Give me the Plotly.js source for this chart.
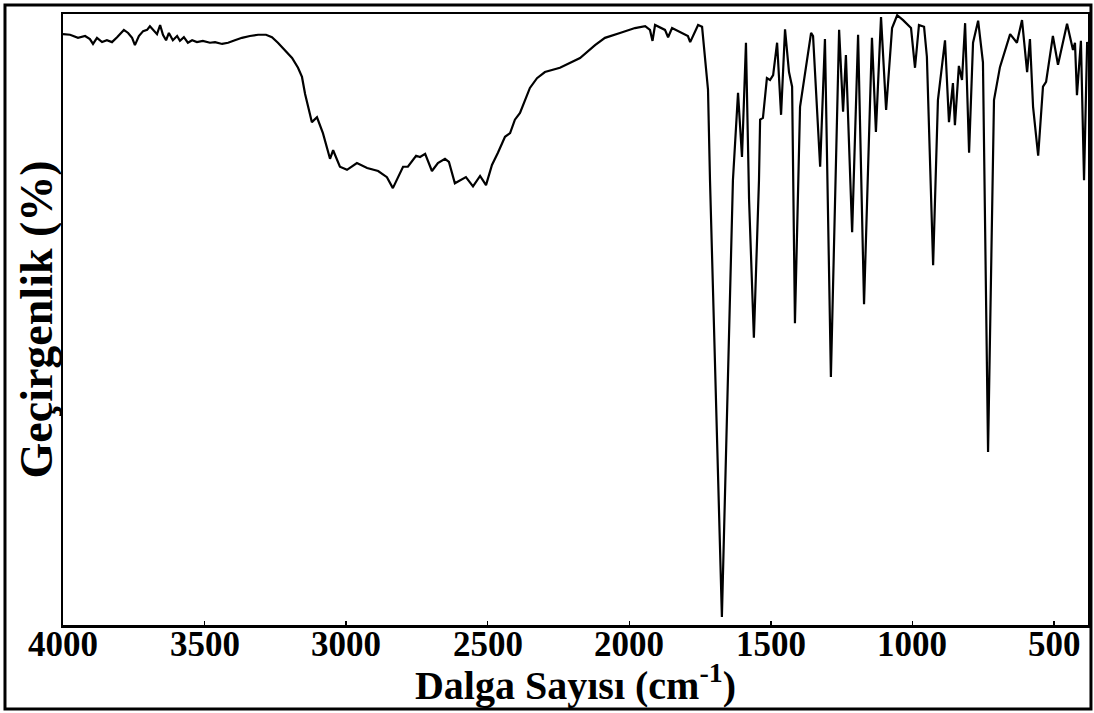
<!DOCTYPE html>
<html>
<head>
<meta charset="utf-8">
<script src="https://cdn.plot.ly/plotly-3.0.1.min.js"></script>
<style>html,body{margin:0;padding:0;background:#fff;}#chart{width:1094px;height:713px;}</style>
</head>
<body>
<div id="chart"></div>
<script>
// Wavenumber (cm-1) and transmittance (%)
const wavenumber = [4000,3975,3947,3922,3905,3894,3880,3862,3845,3827,3809,3799,3785,3770,3756,3746,3732,3717,3703,3693,3679,3668,3657,3647,3636,3626,3612,3597,3587,3573,3559,3544,3527,3506,3481,3463,3438,3417,3393,3368,3340,3311,3283,3262,3241,3216,3191,3170,3156,3145,3138,3121,3103,3082,3057,3046,3022,2997,2962,2926,2887,2856,2835,2799,2782,2753,2739,2721,2697,2676,2651,2637,2616,2598,2577,2552,2527,2506,2485,2464,2439,2421,2404,2386,2368,2351,2326,2298,2245,2174,2121,2086,2033,1980,1944,1927,1918,1909,1874,1863,1849,1821,1793,1785,1757,1743,1733,1722,1715,1673,1634,1616,1602,1588,1577,1560,1542,1538,1528,1514,1503,1492,1478,1464,1450,1436,1425,1415,1397,1379,1358,1351,1326,1309,1288,1259,1245,1235,1213,1192,1171,1143,1129,1111,1093,1072,1054,1033,1005,991,977,959,949,927,910,885,871,857,850,836,825,814,800,786,768,751,733,712,691,655,631,613,595,585,574,556,539,528,504,486,454,433,426,419,405,394,383,380];
const transmittance = [96.7,96.6,96.1,96.4,95.9,95.1,96.1,95.4,95.7,95.4,96.2,96.7,97.4,96.9,96.1,94.9,96.4,97.2,97.4,98.0,97.2,96.7,98.2,96.6,95.7,96.9,95.7,96.4,95.6,96.2,95.3,95.7,95.4,95.6,95.3,95.4,95.1,95.3,95.7,96.1,96.4,96.6,96.6,96.2,95.3,94.1,92.8,91.2,89.7,86.9,85.4,82.3,83.1,80.5,76.3,77.7,75.0,74.5,75.6,74.8,74.3,73.3,71.5,75.0,75.0,76.8,76.6,77.1,74.3,75.6,76.3,75.8,72.3,72.7,73.3,71.8,73.5,72.0,75.3,77.3,79.9,80.5,82.7,83.8,85.9,87.9,89.5,90.5,91.2,92.8,94.9,96.1,96.9,97.7,98.0,97.4,95.6,98.2,97.4,96.2,97.7,97.1,96.4,95.4,98.2,97.9,93.0,87.6,72.8,1.3,72.8,87.1,76.6,95.3,69.6,47.0,72.8,82.7,83.0,89.5,89.2,90.0,95.3,83.5,97.5,90.5,88.1,49.4,84.8,90.3,96.9,96.4,75.0,95.9,40.6,97.4,84.0,93.3,64.3,96.6,52.5,96.1,80.7,99.5,84.3,97.7,99.8,99.0,97.7,91.2,98.2,97.9,93.0,58.9,85.9,95.7,82.3,88.7,81.8,91.5,89.2,98.5,77.3,95.3,98.9,92.1,28.3,85.9,91.3,96.7,95.3,99.0,90.5,95.9,84.8,76.8,88.1,88.9,96.4,91.7,98.4,94.1,95.3,86.7,95.6,72.8,95.4,95.0];
const tickValues = [4000,3500,3000,2500,2000,1500,1000,500];
const tickLabels = ["4000","3500","3000","2500","2000","1500","1000","500"];

const serif = '"Liberation Serif", "Times New Roman", serif';

const trace = {
  x: wavenumber, y: transmittance, type: "scatter", mode: "lines",
  line: {color: "#000", width: 2.2}, hoverinfo: "skip"
};

const tickAnnotations = tickValues.map((v, i) => ({
  text: "<b>" + tickLabels[i] + "</b>",
  xref: "x", yref: "paper", x: v, y: 0,
  xanchor: "center", yanchor: "top", yshift: 1, borderpad: 0, showarrow: false,
  font: {family: serif, size: 35, color: "#000"}
}));

const layout = {
  width: 1094, height: 713,
  margin: {l: 63, r: 6, t: 14, b: 88},
  paper_bgcolor: "#fff", plot_bgcolor: "#fff",
  showlegend: false,
  xaxis: {
    range: [4000, 380], autorange: false,
    tickvals: tickValues, showticklabels: false,
    ticks: "inside", ticklen: 4, tickwidth: 1.5, tickcolor: "#000",
    showgrid: false, zeroline: false,
    showline: true, linecolor: "#000", linewidth: 2.5, mirror: true,
    title: {text: "<b>Dalga Sayısı (cm<sup>-1</sup>)</b>", font: {family: serif, size: 40, color: "#000"}, standoff: 45}
  },
  yaxis: {
    range: [0, 100], autorange: false,
    showticklabels: false, ticks: "",
    showgrid: false, zeroline: false,
    showline: true, linecolor: "#000", linewidth: 2.5, mirror: true
  },
  annotations: tickAnnotations.concat([{
    text: "<b>Geçirgenlik (%)</b>", textangle: -90,
    xref: "paper", yref: "paper", x: -0.0254, y: 0.5,
    xanchor: "center", yanchor: "middle", showarrow: false,
    font: {family: serif, size: 46, color: "#000"}
  }]),
  shapes: [{
    type: "rect", xref: "paper", yref: "paper",
    x0: -0.0566, x1: 1.0029, y0: -0.1375, y1: 1.0147,
    line: {color: "#000", width: 3}
  }]
};

Plotly.newPlot("chart", [trace], layout, {displayModeBar: false, staticPlot: true});
</script>
</body>
</html>
